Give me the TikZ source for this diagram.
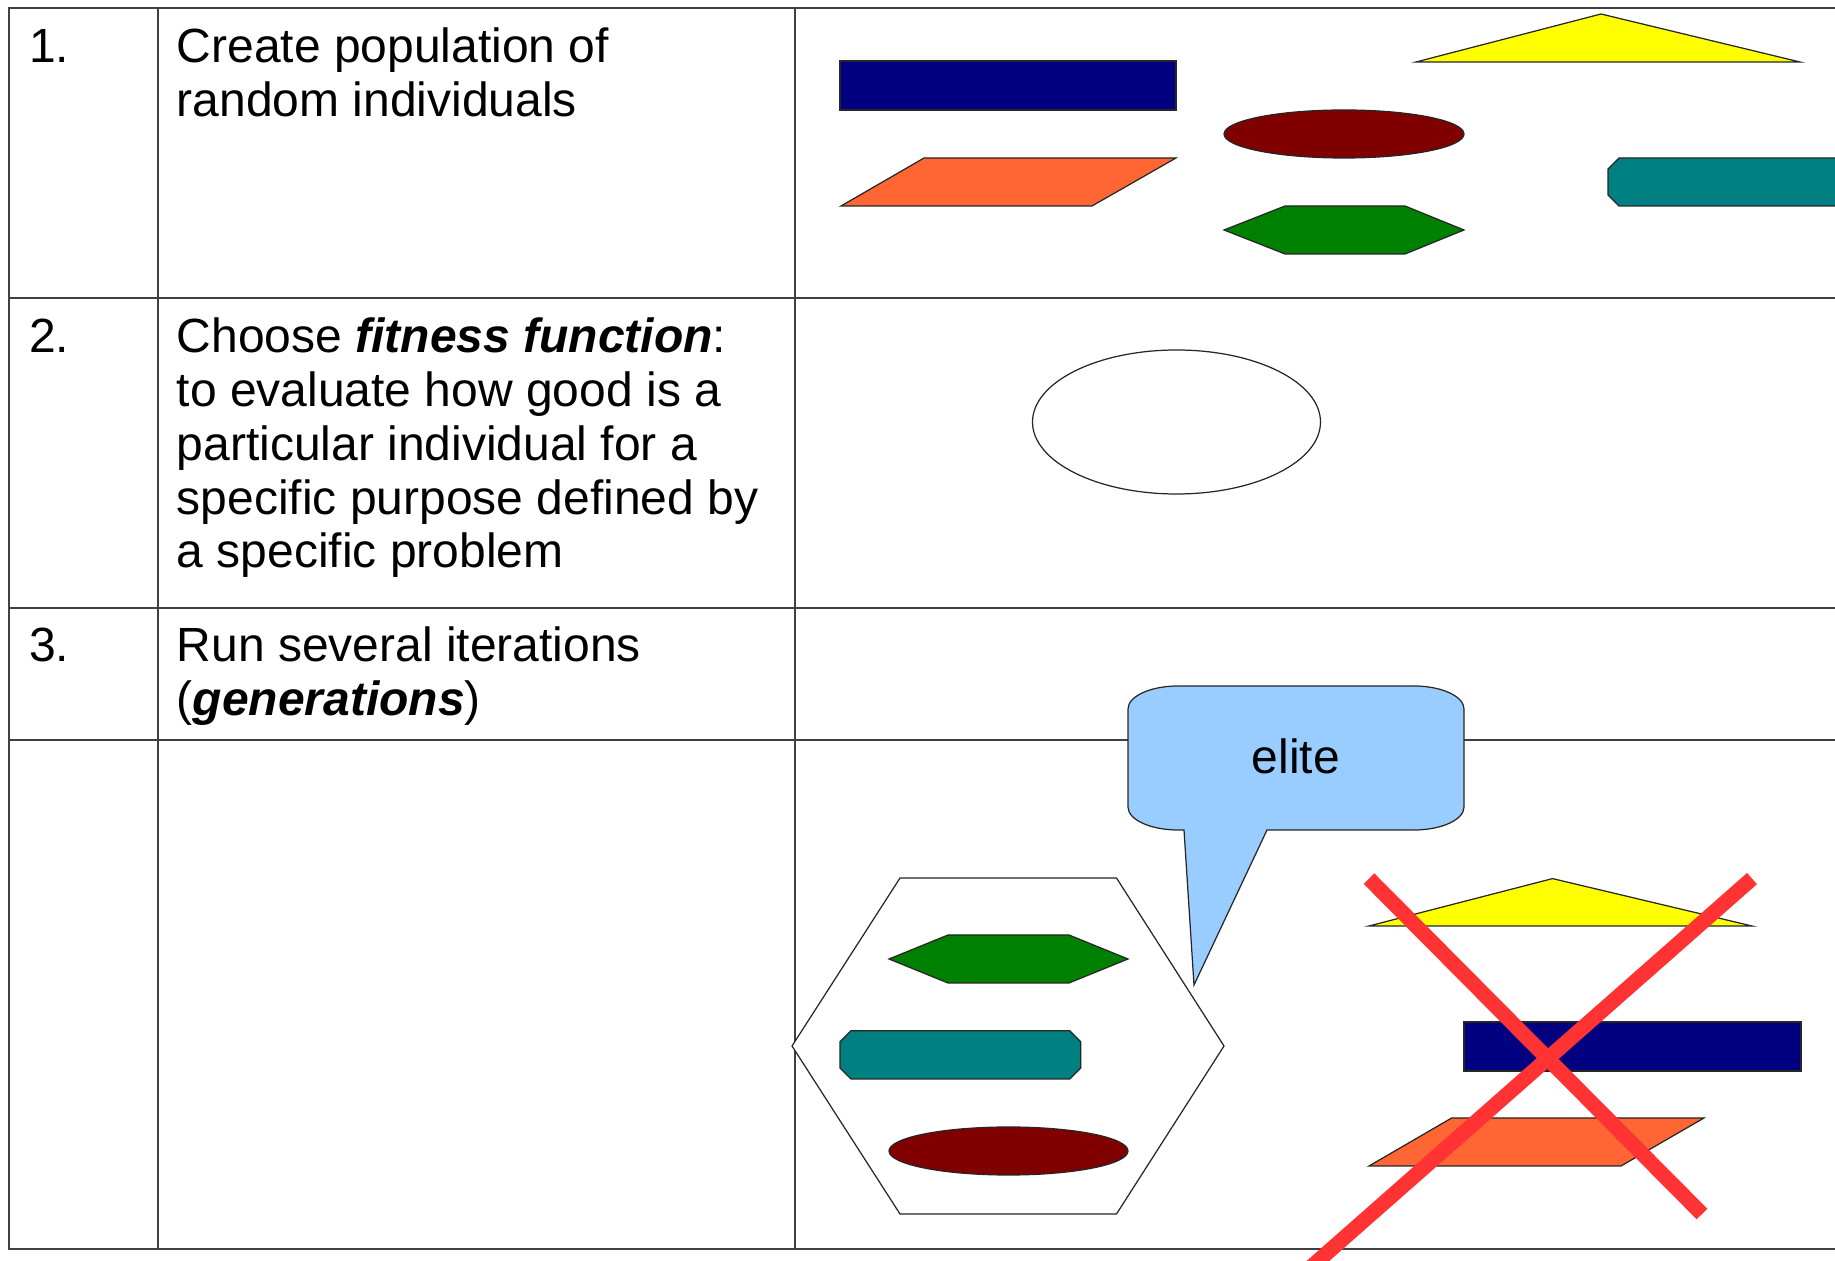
\documentclass[tikz,border=0pt]{standalone}
\usepackage{fontspec}
\setmainfont{Liberation Sans}
\usepackage{tikz}
\usetikzlibrary{calc}
\definecolor{navyblue}{RGB}{0,0,128}
\definecolor{shapeyellow}{RGB}{255,255,0}
\definecolor{maroonred}{RGB}{128,0,0}
\definecolor{tangerine}{RGB}{255,102,51}
\definecolor{leafgreen}{RGB}{0,128,0}
\definecolor{tealish}{RGB}{0,128,128}
\definecolor{bubbleblue}{RGB}{153,204,255}
\definecolor{crossred}{RGB}{255,51,51}
\newcommand{\stepfont}{\fontsize{13.66pt}{15.31pt}\selectfont}

\begin{document}
\begin{tikzpicture}[
    gridline/.style={black!75, line width=0.45pt},
    blob/.style={draw=black!85, line width=0.35pt},
    steptext/.style={anchor=north west, inner sep=0pt, align=left, font=\stepfont},
  ]
  \useasboundingbox (0,0) rectangle (18.35,12.61);
  \clip (0,0) rectangle (18.35,12.61);

  % Table
  \draw[gridline] (0.09,0.12) rectangle (18.6,12.53);
  \draw[gridline] (0.09,9.63) -- (18.6,9.63);
  \draw[gridline] (0.09,6.53) -- (18.6,6.53);
  \draw[gridline] (0.09,5.21) -- (18.6,5.21);
  \draw[gridline] (1.58,0.12) -- (1.58,12.53);
  \draw[gridline] (7.95,0.12) -- (7.95,12.53);

  % Steps
  \node[steptext] (num1) at (0.285,12.367) {\strut 1.};
  \node[steptext] (step1) at (1.76,12.367)
    {\strut Create population of\\random individuals};
  \node[steptext] (num2) at (0.285,9.467) {\strut 2.};
  \node[steptext] (step2) at (1.76,9.467)
    {\strut Choose \textbf{\textit{fitness function}}:\\to evaluate how good is a\\particular individual for a\\specific purpose defined by\\a specific problem};
  \node[steptext] (num3) at (0.285,6.377) {\strut 3.};
  \node[steptext] (step3) at (1.76,6.377)
    {\strut Run several iterations\\(\textbf{\textit{generations}})};

  % Random population
  \filldraw[blob, fill=navyblue] (8.40,11.51) rectangle (11.76,12.00);
  \filldraw[blob, fill=shapeyellow]
    (14.16,11.99) -- (16.01,12.47) -- (18.00,11.99) -- cycle;
  \filldraw[blob, fill=maroonred] (13.44,11.27) ellipse [x radius=1.20, y radius=0.24];
  \filldraw[blob, fill=tangerine]
    (8.41,10.55) -- (9.24,11.03) -- (11.76,11.03) -- (10.92,10.55) -- cycle;
  \filldraw[blob, fill=leafgreen]
    (12.24,10.31) -- (12.85,10.55) -- (14.05,10.55) -- (14.64,10.31)
    -- (14.05,10.07) -- (12.85,10.07) -- cycle;
  \filldraw[blob, fill=tealish]
    (16.08,10.66) -- (16.08,10.92) -- (16.19,11.03) -- (19.00,11.03)
    -- (19.00,10.55) -- (16.19,10.55) -- cycle;

  % Fitness function
  \filldraw[blob, fill=white] (11.765,8.39) ellipse [x radius=1.44, y radius=0.72];

  % Elite kept
  \filldraw[blob, fill=white]
    (9.00,3.83) -- (11.165,3.83) -- (12.24,2.15) -- (11.165,0.47)
    -- (9.00,0.47) -- (7.92,2.15) -- cycle;
  \filldraw[blob, fill=leafgreen]
    (8.89,3.02) -- (9.48,3.26) -- (10.69,3.26) -- (11.28,3.02)
    -- (10.69,2.78) -- (9.48,2.78) -- cycle;
  \filldraw[blob, fill=tealish]
    (8.40,1.93) -- (8.40,2.193) -- (8.51,2.303) -- (10.697,2.303) -- (10.807,2.193)
    -- (10.807,1.93) -- (10.697,1.82) -- (8.51,1.82) -- cycle;
  \filldraw[blob, fill=maroonred] (10.085,1.10) ellipse [x radius=1.195, y radius=0.24];

  % Callout
  \filldraw[blob, fill=bubbleblue]
    (11.84,4.31) -- (11.94,2.76) -- (12.67,4.31) -- (14.14,4.31)
    arc[start angle=-90, end angle=0, x radius=0.50, y radius=0.23]
    -- (14.64,5.52)
    arc[start angle=0, end angle=90, x radius=0.50, y radius=0.23]
    -- (11.78,5.75)
    arc[start angle=90, end angle=180, x radius=0.50, y radius=0.23]
    -- (11.28,4.54)
    arc[start angle=180, end angle=270, x radius=0.50, y radius=0.23]
    -- cycle;
  \node[font=\stepfont, inner sep=0pt, anchor=base] (elite) at (12.96,4.87) {elite};

  % Rejected ones
  \filldraw[blob, fill=shapeyellow]
    (13.69,3.35) -- (15.525,3.824) -- (17.52,3.35) -- cycle;
  \filldraw[blob, fill=navyblue] (14.64,1.90) rectangle (18.01,2.39);
  \filldraw[blob, fill=tangerine]
    (13.69,0.95) -- (14.516,1.43) -- (17.04,1.43) -- (16.21,0.95) -- cycle;
  \draw[crossred, line width=0.15cm] (13.69,3.824) -- (17.02,0.47);
  \draw[crossred, line width=0.15cm] (17.52,3.824) -- (12.85,-0.29);
\end{tikzpicture}
\end{document}
